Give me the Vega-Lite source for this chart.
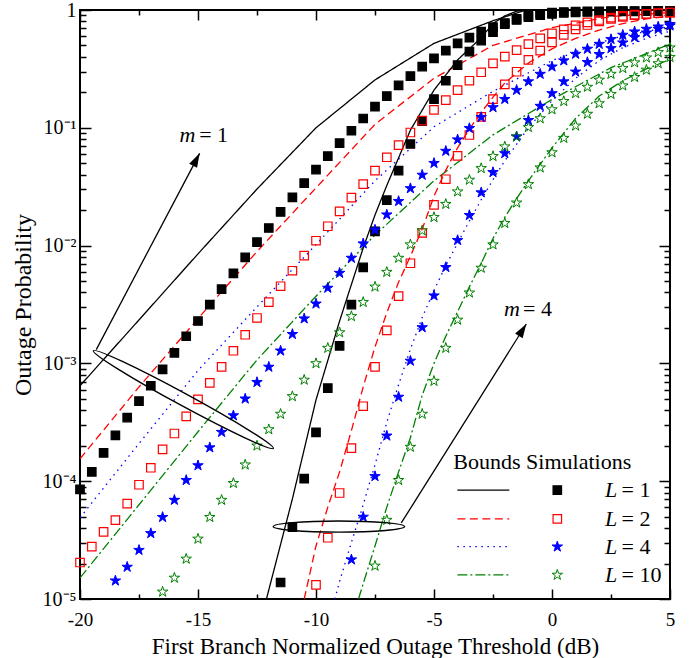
{
"$schema": "https://vega.github.io/schema/vega-lite/v6.json",
"width": 590,
"height": 589,
"autosize": {"type": "none"},
"padding": {"left": 80, "top": 10, "right": 22, "bottom": 59},
"background": "white",
"config": {
  "view": {"stroke": "black", "strokeWidth": 2},
  "axis": {"domain": false, "grid": false, "tickColor": "black", "tickWidth": 1.5, "labelFont": "Liberation Serif", "labelFontSize": 20, "labelColor": "black", "titleFont": "Liberation Serif", "titleFontSize": 24, "titleFontWeight": "normal", "titleColor": "black", "labelFlush": false, "labelOverlap": false}
},
"datasets": {
  "bounds": [
    {"m": 1, "L": "1", "x": [-20,-17.5,-15,-12.5,-10,-7.5,-5,-2.5,-1.1,5], "p": [6.46e-4,2.34e-3,8.51e-3,3.02e-2,0.1,0.255,0.521,0.811,1,1]},
    {"m": 1, "L": "2", "x": [-20,-17.5,-15,-12.5,-10,-7.5,-5,-2.5,0,2.5,5], "p": [1.55e-4,6.31e-4,2.40e-3,8.91e-3,3.09e-2,0.107,0.263,0.501,0.708,0.881,0.951]},
    {"m": 1, "L": "4", "x": [-20,-17.5,-15,-12.5,-10,-7.5,-5,-2.5,0,2.5,5], "p": [4.90e-5,2.09e-4,8.71e-4,3.02e-3,1.02e-2,3.55e-2,0.102,0.204,0.372,0.569,0.724]},
    {"m": 1, "L": "10", "x": [-20,-17.5,-15,-12.5,-10,-7.5,-5,-2.5,0,2.5,5], "p": [1.51e-5,6.31e-5,2.63e-4,1.07e-3,3.72e-3,1.23e-2,3.55e-2,8.71e-2,0.174,0.324,0.513]},
    {"m": 4, "L": "1", "x": [-12.1,-11,-10,-9,-8,-7.5,-7,-6,-5,-4,-3,-2.5,-2,-1.5,-1,5], "p": [1e-5,7.08e-5,4.90e-4,2.29e-3,9.55e-3,1.82e-2,3.24e-2,9.55e-2,0.209,0.377,0.582,0.767,0.891,0.977,1,1]},
    {"m": 4, "L": "2", "x": [-10.5,-10,-9.5,-9,-8.5,-8,-7.5,-7,-6.5,-6,-5.5,-5,-4.5,-4,-3.5,-3,-2.5,-2,-1,0,1,2,3,4,5], "p": [1e-5,2.82e-5,6.03e-5,1.20e-4,2.69e-4,6.31e-4,1.38e-3,2.69e-3,4.90e-3,8.13e-3,1.38e-2,2.63e-2,4.37e-2,6.76e-2,9.77e-2,0.135,0.182,0.240,0.355,0.468,0.575,0.676,0.767,0.841,0.891]},
    {"m": 4, "L": "4", "x": [-9.2,-9,-8.5,-8,-7.5,-7,-6.5,-6,-5.5,-5,-4.5,-4,-3.5,-3,-2.5,-2,-1,0,1,2,3,4,5], "p": [1e-5,1.41e-5,3.02e-5,6.31e-5,1.38e-4,3.16e-4,6.61e-4,1.32e-3,2.45e-3,4.17e-3,6.76e-3,1.05e-2,1.62e-2,2.45e-2,3.63e-2,5.25e-2,0.1,0.170,0.263,0.372,0.479,0.575,0.661]},
    {"m": 4, "L": "10", "x": [-8.2,-8,-7.5,-7,-6.5,-6,-5.5,-5,-4.5,-4,-3.5,-3,-2.5,-2,-1.5,-1,0,1,2,3,4,5], "p": [1e-5,1.35e-5,2.82e-5,6.03e-5,1.20e-4,2.34e-4,5.37e-4,1.0e-3,1.70e-3,2.75e-3,4.47e-3,7.08e-3,1.15e-2,1.74e-2,2.51e-2,3.55e-2,6.76e-2,0.120,0.186,0.251,0.316,0.380]}
  ],
  "sims": [
    {"m": 1, "L": "1", "x": [-20,-19.5,-19,-18.5,-18,-17.5,-17,-16.5,-16,-15.5,-15,-14.5,-14,-13.5,-13,-12.5,-12,-11.5,-11,-10.5,-10,-9.5,-9,-8.5,-8,-7.5,-7,-6.5,-6,-5.5,-5,-4.5,-4,-3.5,-3,-2.5,-2,-1.5,-1,-0.5,0,0.5,1,1.5,2,2.5,3,3.5,4,4.5,5], "p": [8.51e-5,1.20e-4,1.74e-4,2.45e-4,3.47e-4,4.79e-4,6.46e-4,8.91e-4,1.23e-3,1.70e-3,2.29e-3,3.16e-3,4.27e-3,5.82e-3,7.94e-3,1.07e-2,1.41e-2,1.93e-2,2.57e-2,3.39e-2,4.42e-2,5.75e-2,7.41e-2,9.44e-2,0.120,0.151,0.186,0.229,0.275,0.331,0.389,0.452,0.521,0.582,0.655,0.716,0.776,0.822,0.871,0.902,0.927,0.944,0.955,0.962,0.966,0.970,0.973,0.975,0.977,0.977,0.979]},
    {"m": 4, "L": "1", "x": [-11.5,-11,-10.5,-10,-9.5,-9,-8.5,-8,-7.5,-7,-6.5,-6,-5.5,-5,-4.5,-4,-3.5,-3,-2.5,-2,-1.5,-1,-0.5,0,0.5,1,1.5,2,2.5,3,3.5,4,4.5,5], "p": [1.38e-5,4.07e-5,1.05e-4,2.60e-4,6.17e-4,1.41e-3,3.16e-3,6.53e-3,1.32e-2,2.43e-2,4.33e-2,7.29e-2,0.114,0.175,0.251,0.341,0.443,0.550,0.650,0.759,0.841,0.895,0.929,0.951,0.962,0.968,0.973,0.975,0.977,0.979,0.979,0.982,0.982,0.982]},
    {"m": 1, "L": "2", "x": [-20,-19.5,-19,-18.5,-18,-17.5,-17,-16.5,-16,-15.5,-15,-14.5,-14,-13.5,-13,-12.5,-12,-11.5,-11,-10.5,-10,-9.5,-9,-8.5,-8,-7.5,-7,-6.5,-6,-5.5,-5,-4.5,-4,-3.5,-3,-2.5,-2,-1.5,-1,-0.5,0,0.5,1,1.5,2,2.5,3,3.5,4,4.5,5], "p": [2.04e-5,2.78e-5,3.72e-5,4.68e-5,6.46e-5,9.33e-5,1.30e-4,1.86e-4,2.54e-4,3.55e-4,4.95e-4,6.84e-4,9.33e-4,1.28e-3,1.75e-3,2.43e-3,3.31e-3,4.52e-3,6.12e-3,8.22e-3,1.10e-2,1.46e-2,1.95e-2,2.55e-2,3.33e-2,4.33e-2,5.62e-2,7.14e-2,9.12e-2,0.115,0.142,0.172,0.209,0.251,0.296,0.352,0.402,0.457,0.514,0.575,0.634,0.686,0.741,0.785,0.822,0.861,0.891,0.912,0.929,0.942,0.951]},
    {"m": 4, "L": "2", "x": [-10,-9.5,-9,-8.5,-8,-7.5,-7,-6.5,-6,-5.5,-5,-4.5,-4,-3.5,-3,-2.5,-2,-1.5,-1,-0.5,0,0.5,1,1.5,2,2.5,3,3.5,4,4.5,5], "p": [1.32e-5,3.31e-5,7.94e-5,1.91e-4,4.33e-4,9.33e-4,1.91e-3,3.72e-3,7.08e-3,1.28e-2,2.22e-2,3.66e-2,5.77e-2,8.69e-2,0.124,0.175,0.234,0.299,0.377,0.452,0.531,0.614,0.685,0.746,0.800,0.841,0.875,0.902,0.923,0.938,0.951]},
    {"m": 1, "L": "4", "x": [-18.5,-18,-17.5,-17,-16.5,-16,-15.5,-15,-14.5,-14,-13.5,-13,-12.5,-12,-11.5,-11,-10.5,-10,-9.5,-9,-8.5,-8,-7.5,-7,-6.5,-6,-5.5,-5,-4.5,-4,-3.5,-3,-2.5,-2,-1.5,-1,-0.5,0,0.5,1,1.5,2,2.5,3,3.5,4,4.5,5], "p": [1.43e-5,1.87e-5,2.60e-5,3.61e-5,4.95e-5,6.92e-5,1.02e-4,1.36e-4,1.93e-4,2.61e-4,3.61e-4,5.01e-4,6.92e-4,9.33e-4,1.28e-3,1.77e-3,2.40e-3,3.21e-3,4.37e-3,5.85e-3,7.85e-3,1.04e-2,1.36e-2,1.83e-2,2.38e-2,3.06e-2,3.98e-2,5.01e-2,6.35e-2,7.94e-2,9.91e-2,0.123,0.149,0.175,0.209,0.247,0.286,0.330,0.372,0.423,0.467,0.514,0.564,0.614,0.655,0.690,0.721,0.757]},
    {"m": 4, "L": "4", "x": [-8.5,-8,-7.5,-7,-6.5,-6,-5.5,-5,-4.5,-4,-3.5,-3,-2.5,-2,-1.5,-1,-0.5,0,0.5,1,1.5,2,2.5,3,3.5,4,4.5,5], "p": [2.16e-5,4.97e-5,1.10e-4,2.43e-4,5.19e-4,1.05e-3,2.02e-3,3.76e-3,6.55e-3,1.11e-2,1.81e-2,2.82e-2,4.19e-2,6.07e-2,8.41e-2,0.116,0.153,0.196,0.247,0.299,0.360,0.421,0.473,0.528,0.586,0.641,0.690,0.736]},
    {"m": 1, "L": "10", "x": [-16.5,-16,-15.5,-15,-14.5,-14,-13.5,-13,-12.5,-12,-11.5,-11,-10.5,-10,-9.5,-9,-8.5,-8,-7.5,-7,-6.5,-6,-5.5,-5,-4.5,-4,-3.5,-3,-2.5,-2,-1.5,-1,-0.5,0,0.5,1,1.5,2,2.5,3,3.5,4,4.5,5], "p": [1.15e-5,1.51e-5,2.19e-5,3.24e-5,4.95e-5,6.92e-5,9.62e-5,1.38e-4,2.00e-4,2.75e-4,3.72e-4,5.25e-4,7.24e-4,1.00e-3,1.35e-3,1.83e-3,2.51e-3,3.31e-3,4.47e-3,5.96e-3,7.85e-3,1.02e-2,1.34e-2,1.74e-2,2.25e-2,2.87e-2,3.61e-2,4.53e-2,5.73e-2,6.92e-2,8.41e-2,0.101,0.120,0.143,0.168,0.196,0.222,0.255,0.286,0.320,0.358,0.394,0.437,0.479]},
    {"m": 4, "L": "10", "x": [-7.5,-7,-6.5,-6,-5.5,-5,-4.5,-4,-3.5,-3,-2.5,-2,-1.5,-1,-0.5,0,0.5,1,1.5,2,2.5,3,3.5,4,4.5,5], "p": [1.91e-5,4.68e-5,1.02e-4,1.95e-4,3.72e-4,7.08e-4,1.35e-3,2.34e-3,3.98e-3,6.46e-3,1.02e-2,1.55e-2,2.31e-2,3.31e-2,4.59e-2,6.17e-2,8.18e-2,0.104,0.131,0.161,0.193,0.228,0.269,0.310,0.352,0.398]}
  ],
  "legend": [
    {"L": "1", "lab": "= 1", "p": 8.41e-5},
    {"L": "2", "lab": "= 2", "p": 4.78e-5},
    {"L": "4", "lab": "= 4", "p": 2.78e-5},
    {"L": "10", "lab": "= 10", "p": 1.60e-5}
  ]
},
"layer": [
  {
    "data": {"name": "bounds"},
    "transform": [{"flatten": ["x", "p"]}],
    "mark": {"type": "line", "strokeWidth": 1.3, "clip": true},
    "encoding": {
      "x": {"field": "x", "type": "quantitative", "scale": {"domain": [-20, 5], "nice": false, "zero": false},
        "axis": {"orient": "bottom", "values": [-20,-17.5,-15,-12.5,-10,-7.5,-5,-2.5,0,2.5,5], "tickSize": {"condition": {"test": "datum.value % 5 === 0", "value": -10}, "value": -5}, "labelExpr": "datum.value % 5 === 0 ? toString(datum.value) : ''", "labelPadding": 21, "labelFontSize": 19, "labelBaseline": "top", "title": "First Branch Normalized Outage Threshold (dB)", "titleFontSize": 23, "titleX": 295, "titleY": 54, "titleAlign": "center", "titleBaseline": "alphabetic"}},
      "y": {"field": "p", "type": "quantitative", "scale": {"type": "log", "domain": [0.00001, 1], "nice": false},
        "axis": {"orient": "left", "values": [0.00001,0.00002,0.00003,0.00004,0.00005,0.00006,0.00007,0.00008,0.00009,0.0001,0.0002,0.0003,0.0004,0.0005,0.0006,0.0007,0.0008,0.0009,0.001,0.002,0.003,0.004,0.005,0.006,0.007,0.008,0.009,0.01,0.02,0.03,0.04,0.05,0.06,0.07,0.08,0.09,0.1,0.2,0.3,0.4,0.5,0.6,0.7,0.8,0.9,1], "tickSize": {"condition": {"test": "datum.value === 1 || datum.value === 0.1 || datum.value === 0.01 || datum.value === 0.001 || datum.value === 0.0001 || datum.value === 0.00001", "value": -11}, "value": -6}, "labelExpr": "datum.value === 1 ? '1' : datum.value === 0.1 ? '10⁻¹' : datum.value === 0.01 ? '10⁻²' : datum.value === 0.001 ? '10⁻³' : datum.value === 0.0001 ? '10⁻⁴' : datum.value === 0.00001 ? '10⁻⁵' : ''", "labelPadding": 15, "labelBaseline": "middle", "title": "Outage Probability", "titleX": -50, "titleY": 294.5, "titleAngle": -90, "titleAlign": "center", "titleBaseline": "alphabetic"}},
      "detail": {"field": "m", "type": "nominal"},
      "stroke": {"field": "L", "type": "nominal", "scale": {"domain": ["1","2","4","10"], "range": ["#000000","#ff0000","#0000ff","#008000"]}, "legend": null},
      "strokeDash": {"field": "L", "type": "nominal", "scale": {"domain": ["1","2","4","10"], "range": [[1,0],[8,4.5],[1.5,4.5],[10,3,2,3]]}, "legend": null}
    }
  },
  {
    "data": {"name": "sims"},
    "transform": [{"flatten": ["x", "p"]}, {"filter": {"field": "L", "oneOf": ["1","2"]}}],
    "mark": {"type": "point", "shape": "square", "size": 72, "strokeWidth": 1.2, "opacity": 1},
    "encoding": {
      "x": {"field": "x", "type": "quantitative",
        "axis": {"orient": "top", "values": [-20,-17.5,-15,-12.5,-10,-7.5,-5,-2.5,0,2.5,5], "tickSize": {"condition": {"test": "datum.value % 5 === 0", "value": -10}, "value": -5}, "labels": false, "title": null}},
      "y": {"field": "p", "type": "quantitative",
        "axis": {"orient": "right", "values": [0.00001,0.00002,0.00003,0.00004,0.00005,0.00006,0.00007,0.00008,0.00009,0.0001,0.0002,0.0003,0.0004,0.0005,0.0006,0.0007,0.0008,0.0009,0.001,0.002,0.003,0.004,0.005,0.006,0.007,0.008,0.009,0.01,0.02,0.03,0.04,0.05,0.06,0.07,0.08,0.09,0.1,0.2,0.3,0.4,0.5,0.6,0.7,0.8,0.9,1], "tickSize": {"condition": {"test": "datum.value === 1 || datum.value === 0.1 || datum.value === 0.01 || datum.value === 0.001 || datum.value === 0.0001 || datum.value === 0.00001", "value": -11}, "value": -6}, "labels": false, "title": null}},
      "stroke": {"field": "L", "type": "nominal", "legend": null},
      "fill": {"field": "L", "type": "nominal", "scale": {"domain": ["1","2","4","10"], "range": ["#000000","transparent","#0000ff","transparent"]}, "legend": null}
    }
  },
  {
    "data": {"name": "sims"},
    "transform": [{"flatten": ["x", "p"]}, {"filter": {"field": "L", "oneOf": ["4","10"]}}],
    "mark": {"type": "point", "shape": "M0,-1L0.2245,-0.309L0.951,-0.309L0.363,0.118L0.588,0.809L0,0.382L-0.588,0.809L-0.363,0.118L-0.951,-0.309L-0.2245,-0.309Z", "size": 121, "strokeWidth": 1, "opacity": 1},
    "encoding": {
      "x": {"field": "x", "type": "quantitative", "axis": null},
      "y": {"field": "p", "type": "quantitative", "axis": null},
      "stroke": {"field": "L", "type": "nominal", "legend": null},
      "fill": {"field": "L", "type": "nominal", "legend": null}
    }
  },
  {
    "data": {"values": [{}]},
    "mark": {"type": "point", "shape": "M-1,0C-1,-0.033,-0.552,-0.06,0,-0.06C0.552,-0.06,1,-0.033,1,0C1,0.033,0.552,0.06,0,0.06C-0.552,0.06,-1,0.033,-1,0Z", "size": 41943, "angle": 28.5, "filled": false, "stroke": "black", "strokeWidth": 1.4, "opacity": 1},
    "encoding": {"x": {"datum": -15.62, "type": "quantitative", "axis": null}, "y": {"datum": 0.000493, "type": "quantitative", "axis": null}}
  },
  {
    "data": {"values": [{}]},
    "mark": {"type": "point", "shape": "M-1,0C-1,-0.046,-0.552,-0.084,0,-0.084C0.552,-0.084,1,-0.046,1,0C1,0.046,0.552,0.084,0,0.084C-0.552,0.084,-1,0.046,-1,0Z", "size": 17266, "angle": 0, "filled": false, "stroke": "black", "strokeWidth": 1.4, "opacity": 1},
    "encoding": {"x": {"datum": -9.03, "type": "quantitative", "axis": null}, "y": {"datum": 0.0000412, "type": "quantitative", "axis": null}}
  },
  {
    "data": {"values": [{}]},
    "mark": {"type": "rule", "stroke": "black", "strokeWidth": 1.3},
    "encoding": {"x": {"datum": -19.31, "type": "quantitative", "axis": null}, "y": {"datum": 0.00131, "type": "quantitative", "axis": null}, "x2": {"datum": -14.93}, "y2": {"datum": 0.0607}}
  },
  {
    "data": {"values": [{}]},
    "mark": {"type": "rule", "stroke": "black", "strokeWidth": 1.3},
    "encoding": {"x": {"datum": -6.386, "type": "quantitative", "axis": null}, "y": {"datum": 0.0000442, "type": "quantitative", "axis": null}, "x2": {"datum": -1.089}, "y2": {"datum": 0.00216}}
  },
  {
    "data": {"values": [{}]},
    "mark": {"type": "point", "shape": "M0,0L-0.32,1L0.32,1Z", "size": 784, "angle": 27.8, "filled": true, "color": "black", "strokeWidth": 0, "opacity": 1},
    "encoding": {"x": {"datum": -14.93, "type": "quantitative", "axis": null}, "y": {"datum": 0.0607, "type": "quantitative", "axis": null}}
  },
  {
    "data": {"values": [{}]},
    "mark": {"type": "point", "shape": "M0,0L-0.32,1L0.32,1Z", "size": 784, "angle": 32.1, "filled": true, "color": "black", "strokeWidth": 0, "opacity": 1},
    "encoding": {"x": {"datum": -1.089, "type": "quantitative", "axis": null}, "y": {"datum": 0.00216, "type": "quantitative", "axis": null}}
  },
  {
    "data": {"values": [{}]},
    "mark": {"type": "text", "text": "m", "font": "Liberation Serif", "fontSize": 22, "fontStyle": "italic", "align": "left", "baseline": "alphabetic", "color": "black"},
    "encoding": {"x": {"datum": -15.78, "type": "quantitative", "axis": null}, "y": {"datum": 0.0762, "type": "quantitative", "axis": null}}
  },
  {
    "data": {"values": [{}]},
    "mark": {"type": "text", "text": "= 1", "font": "Liberation Serif", "fontSize": 22, "align": "left", "baseline": "alphabetic", "color": "black"},
    "encoding": {"x": {"datum": -14.95, "type": "quantitative", "axis": null}, "y": {"datum": 0.0762, "type": "quantitative", "axis": null}}
  },
  {
    "data": {"values": [{}]},
    "mark": {"type": "text", "text": "m", "font": "Liberation Serif", "fontSize": 22, "fontStyle": "italic", "align": "left", "baseline": "alphabetic", "color": "black"},
    "encoding": {"x": {"datum": -2.034, "type": "quantitative", "axis": null}, "y": {"datum": 0.00251, "type": "quantitative", "axis": null}}
  },
  {
    "data": {"values": [{}]},
    "mark": {"type": "text", "text": "= 4", "font": "Liberation Serif", "fontSize": 22, "align": "left", "baseline": "alphabetic", "color": "black"},
    "encoding": {"x": {"datum": -1.23, "type": "quantitative", "axis": null}, "y": {"datum": 0.00251, "type": "quantitative", "axis": null}}
  },
  {
    "data": {"values": [{}]},
    "mark": {"type": "text", "text": "Bounds Simulations", "font": "Liberation Serif", "fontSize": 22, "align": "left", "baseline": "alphabetic", "color": "black"},
    "encoding": {"x": {"datum": -4.18, "type": "quantitative", "axis": null}, "y": {"datum": 0.000127, "type": "quantitative", "axis": null}}
  },
  {
    "data": {"name": "legend"},
    "mark": {"type": "rule", "strokeWidth": 1.3},
    "encoding": {
      "x": {"datum": -4.01, "type": "quantitative", "axis": null},
      "x2": {"datum": -1.81},
      "y": {"field": "p", "type": "quantitative", "axis": null},
      "stroke": {"field": "L", "type": "nominal", "legend": null},
      "strokeDash": {"field": "L", "type": "nominal", "legend": null}
    }
  },
  {
    "data": {"name": "legend"},
    "transform": [{"filter": {"field": "L", "oneOf": ["1","2"]}}],
    "mark": {"type": "point", "shape": "square", "size": 72, "strokeWidth": 1.2, "opacity": 1},
    "encoding": {
      "x": {"datum": 0.225, "type": "quantitative", "axis": null},
      "y": {"field": "p", "type": "quantitative", "axis": null},
      "stroke": {"field": "L", "type": "nominal", "legend": null},
      "fill": {"field": "L", "type": "nominal", "legend": null}
    }
  },
  {
    "data": {"name": "legend"},
    "transform": [{"filter": {"field": "L", "oneOf": ["4","10"]}}],
    "mark": {"type": "point", "shape": "M0,-1L0.2245,-0.309L0.951,-0.309L0.363,0.118L0.588,0.809L0,0.382L-0.588,0.809L-0.363,0.118L-0.951,-0.309L-0.2245,-0.309Z", "size": 121, "strokeWidth": 1, "opacity": 1},
    "encoding": {
      "x": {"datum": 0.225, "type": "quantitative", "axis": null},
      "y": {"field": "p", "type": "quantitative", "axis": null},
      "stroke": {"field": "L", "type": "nominal", "legend": null},
      "fill": {"field": "L", "type": "nominal", "legend": null}
    }
  },
  {
    "data": {"name": "legend"},
    "mark": {"type": "text", "text": "L", "font": "Liberation Serif", "fontSize": 22, "fontStyle": "italic", "align": "left", "baseline": "middle", "color": "black"},
    "encoding": {
      "x": {"datum": 2.246, "type": "quantitative", "axis": null},
      "y": {"field": "p", "type": "quantitative", "axis": null}
    }
  },
  {
    "data": {"name": "legend"},
    "mark": {"type": "text", "font": "Liberation Serif", "fontSize": 22, "align": "left", "baseline": "middle", "color": "black"},
    "encoding": {
      "x": {"datum": 2.95, "type": "quantitative", "axis": null},
      "y": {"field": "p", "type": "quantitative", "axis": null},
      "text": {"field": "lab", "type": "nominal"}
    }
  }
],
"resolve": {"axis": {"x": "independent", "y": "independent"}}
}
